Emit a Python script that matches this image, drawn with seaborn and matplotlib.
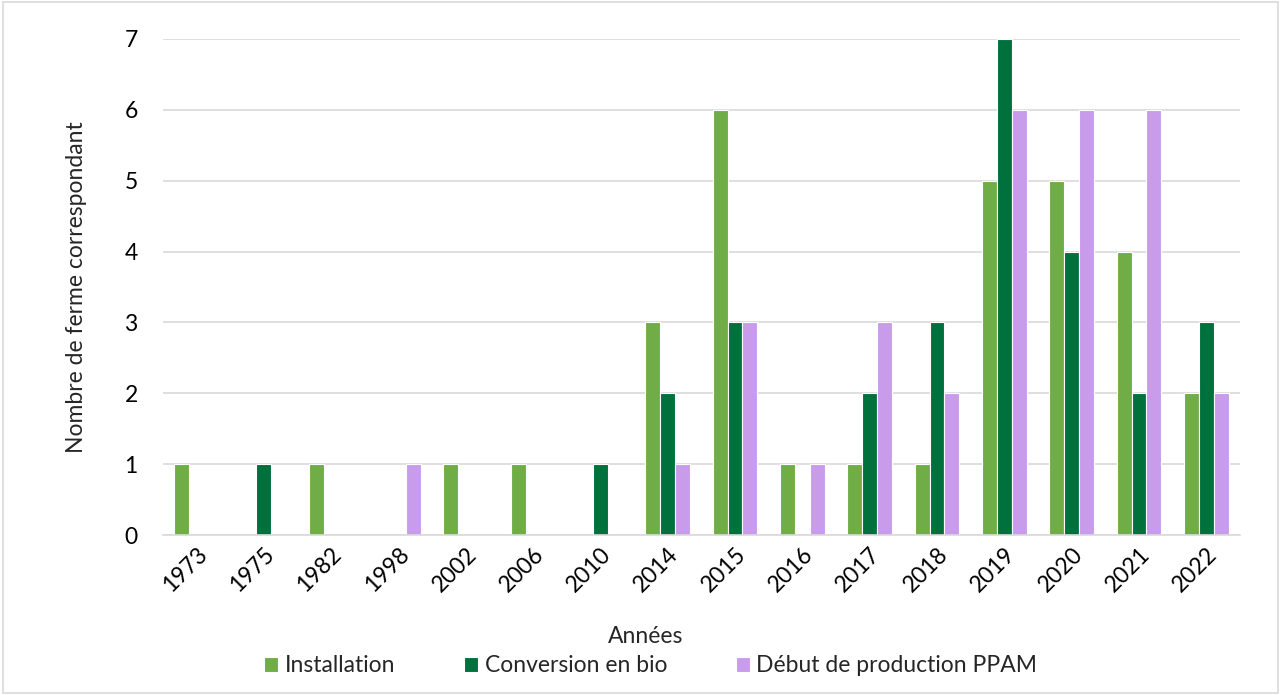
import pandas as pd
import seaborn as sns
import matplotlib.pyplot as plt

# data
annees = ['1973', '1975', '1982', '1998', '2002', '2006', '2010', '2014',
          '2015', '2016', '2017', '2018', '2019', '2020', '2021', '2022']
installation = [1, 0, 1, 0, 1, 1, 0, 3, 6, 1, 1, 1, 5, 5, 4, 2]
conversion = [0, 1, 0, 0, 0, 0, 1, 2, 3, 0, 2, 3, 7, 4, 2, 3]
debut_ppam = [0, 0, 0, 1, 0, 0, 0, 1, 3, 1, 3, 2, 6, 6, 6, 2]

series = ['Installation', 'Conversion en bio', 'Début de production PPAM']
couleurs = ['#70AD47', '#00703C', '#C89BEB']

# long format for seaborn
df = pd.DataFrame({
    'Années': annees * 3,
    'valeur': installation + conversion + debut_ppam,
    'serie': [s for s in series for _ in annees],
})

sns.set_theme(style='white')
plt.rcParams['font.family'] = ['Lato', 'DejaVu Sans']

fig = plt.figure(figsize=(12.81, 6.95), dpi=100)
ax = fig.add_axes([0.127, 0.230, 0.841, 0.714])

sns.barplot(data=df, x='Années', y='valeur', hue='serie', hue_order=series,
            palette=couleurs, width=0.66, edgecolor='white', linewidth=0.8,
            saturation=1, ax=ax)

fs = 16.5
ax.set_ylim(0, 7)
ax.set_xlim(-0.5, len(annees) - 0.5)
ax.set_yticks(range(0, 8))
ax.yaxis.grid(True, color='#D9D9D9', linewidth=1.2)
ax.set_axisbelow(True)
for s in ['top', 'right', 'left']:
    ax.spines[s].set_visible(False)
ax.spines['bottom'].set_color('#D9D9D9')
ax.spines['bottom'].set_linewidth(1.2)
ax.tick_params(axis='both', length=0, labelsize=fs, colors='black')
ax.tick_params(axis='y', pad=18)
ax.tick_params(axis='x', pad=6)
plt.setp(ax.get_xticklabels(), rotation=45, ha='right', rotation_mode='anchor')

ax.set_xlabel('Années', fontsize=fs)
ax.xaxis.set_label_coords(0.448, -0.183)
ax.set_ylabel('Nombre de ferme correspondant', fontsize=fs)
ax.yaxis.set_label_coords(-0.07, 0.5)

# legend centred under the chart like the original
ax.get_legend().remove()
handles, labels = ax.get_legend_handles_labels()
fig.legend(handles, labels, loc='center', bbox_to_anchor=(0.508, 1 - 666 / 695), ncol=3,
           frameon=False, fontsize=fs, handlelength=0.6, handleheight=0.6,
           handletextpad=0.3, columnspacing=3.0)

# light frame around the whole chart
fig.patches.append(plt.Rectangle((0.002, 0.003), 0.996, 0.994, transform=fig.transFigure,
                                 fill=False, edgecolor='#D9D9D9', linewidth=1.2))

fig.savefig('out.png', dpi=100)
